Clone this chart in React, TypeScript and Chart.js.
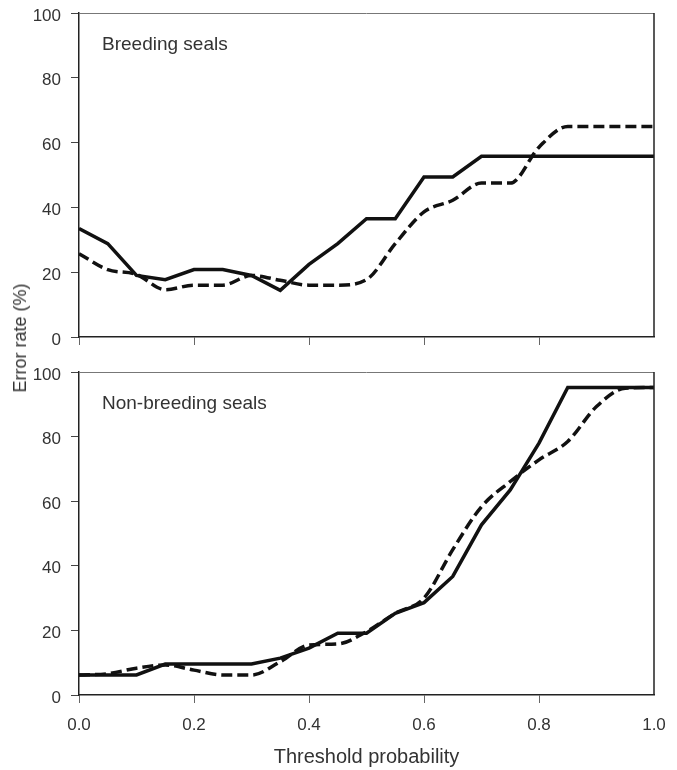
import React, { useEffect, useRef } from "react";
import { Chart, registerables } from "chart.js";

Chart.register(...registerables);

// ---- Data ----
const thresholds = [0, 0.05, 0.1, 0.15, 0.2, 0.25, 0.3, 0.35, 0.4, 0.45, 0.5, 0.55, 0.6, 0.65, 0.7, 0.75, 0.8, 0.85, 0.9, 0.95, 1.0];

const breedingSolid = [33.5, 28.8, 19, 17.7, 20.8, 20.8, 19, 14.4, 22.4, 28.8, 36.5, 36.5, 49.4, 49.4, 55.8, 55.8, 55.8, 55.8, 55.8, 55.8, 55.8];
const breedingDashed = [25.7, 20.8, 19.3, 14.6, 16, 16, 19, 17.5, 16, 16, 17.7, 28.8, 38.6, 42.2, 47.5, 47.5, 58.6, 65, 65, 65, 65];

const nonBreedingSolid = [6.2, 6.2, 6.2, 9.6, 9.6, 9.6, 9.6, 11.4, 14.5, 19.1, 19.1, 25.3, 28.6, 36.7, 52.7, 63.5, 78, 95.2, 95.2, 95.2, 95.2];
const nonBreedingDashed = [6.2, 6.6, 8.3, 9.3, 7.7, 6.2, 6.2, 10.3, 15.5, 15.8, 19.6, 25.3, 30, 45, 58.3, 66.1, 72.8, 78.5, 89.3, 95, 95.2];

const panelLabels = ["Breeding seals", "Non-breeding seals"];
const yTitle = "Error rate (%)";
const xTitle = "Threshold probability";

const FONT = "'Liberation Sans', Arial, Helvetica, sans-serif";
const TEXT = "#333333";

type PanelProps = {
  label: string;
  solid: number[];
  dashed: number[];
  width: number;
  height: number;
  padTop: number;
  xHeight: number;
  showXLabels: boolean;
};

function Panel({ label, solid, dashed, width, height, padTop, xHeight, showXLabels }: PanelProps) {
  const ref = useRef<HTMLCanvasElement | null>(null);

  useEffect(() => {
    if (!ref.current) return;
    const toPts = (arr: number[]) => thresholds.map((x, i) => ({ x, y: arr[i] }));

    const framePlugin = {
      id: "frameLabel",
      afterDraw(chart: any) {
        const { ctx, chartArea } = chart;
        const { left, right, top, bottom } = chartArea;
        ctx.save();
        ctx.strokeStyle = "#777";
        ctx.lineWidth = 1;
        ctx.beginPath();
        ctx.moveTo(left, top + 0.5);
        ctx.lineTo(right, top + 0.5);
        ctx.stroke();
        ctx.strokeStyle = "#222";
        ctx.lineWidth = 1.5;
        ctx.beginPath();
        ctx.moveTo(right, top);
        ctx.lineTo(right, bottom);
        ctx.stroke();
        ctx.fillStyle = TEXT;
        ctx.font = `19px ${FONT}`;
        ctx.textBaseline = "alphabetic";
        ctx.textAlign = "left";
        ctx.fillText(label, left + 23, top + 36.5);
        ctx.restore();
      },
    };

    const chart = new Chart(ref.current, {
      type: "line",
      data: {
        datasets: [
          {
            data: toPts(solid),
            borderColor: "#111",
            borderWidth: 3.5,
            pointRadius: 0,
            tension: 0,
            fill: false,
          },
          {
            data: toPts(dashed),
            borderColor: "#111",
            borderWidth: 3.5,
            borderDash: [11, 5],
            pointRadius: 0,
            cubicInterpolationMode: "monotone",
            fill: false,
          },
        ],
      },
      options: {
        animation: false,
        responsive: false,
        devicePixelRatio: 1,
        layout: { padding: { left: 0, right: 23, top: padTop, bottom: 0 } },
        plugins: { legend: { display: false }, tooltip: { enabled: false } },
        scales: {
          x: {
            type: "linear",
            min: 0,
            max: 1,
            afterFit: (s: any) => {
              s.height = xHeight;
              s.paddingLeft = 0;
              s.paddingRight = 0;
            },
            ticks: {
              display: showXLabels,
              stepSize: 0.2,
              padding: 12,
              color: TEXT,
              font: { family: FONT, size: 17 },
              callback: (v: any) => Number(v).toFixed(1),
            },
            grid: {
              drawOnChartArea: false,
              drawTicks: true,
              tickLength: 8,
              color: (c: any) => (c.tick && c.tick.value === 1 ? "rgba(0,0,0,0)" : "#666"),
            },
            border: { display: true, color: "#222", width: 1.5 },
            title: {
              display: showXLabels,
              text: xTitle,
              color: TEXT,
              font: { family: FONT, size: 20, lineHeight: 1.2 },
              padding: { top: 0, bottom: 1 },
            },
          },
          y: {
            min: 0,
            max: 100,
            afterFit: (s: any) => {
              s.width = 79;
              s.paddingTop = 0;
              s.paddingBottom = 0;
            },
            ticks: {
              stepSize: 20,
              padding: 10,
              labelOffset: 3,
              color: TEXT,
              font: { family: FONT, size: 17 },
            },
            grid: {
              drawOnChartArea: false,
              drawTicks: true,
              tickLength: 8,
              color: "#444",
            },
            border: { display: true, color: "#222", width: 1.5 },
          },
        },
      },
      plugins: [framePlugin],
    } as any);

    return () => chart.destroy();
  }, [label, solid, dashed, padTop, xHeight, showXLabels]);

  return <canvas ref={ref} width={width} height={height} style={{ display: "block", width, height }} />;
}

export default function App() {
  return (
    <div style={{ position: "absolute", left: 0, top: 0, width: 677, height: 770, background: "#fff" }}>
      <Panel
        label={panelLabels[0]}
        solid={breedingSolid}
        dashed={breedingDashed}
        width={677}
        height={350}
        padTop={13}
        xHeight={13}
        showXLabels={false}
      />
      <Panel
        label={panelLabels[1]}
        solid={nonBreedingSolid}
        dashed={nonBreedingDashed}
        width={677}
        height={420}
        padTop={22}
        xHeight={75}
        showXLabels={true}
      />
      <div
        style={{
          position: "absolute",
          left: 19.5,
          top: 338,
          transform: "translate(-50%, -50%) rotate(-90deg)",
          fontFamily: FONT,
          fontSize: 18,
          lineHeight: 1,
          color: TEXT,
          whiteSpace: "nowrap",
        }}
      >
        {yTitle}
      </div>
    </div>
  );
}
